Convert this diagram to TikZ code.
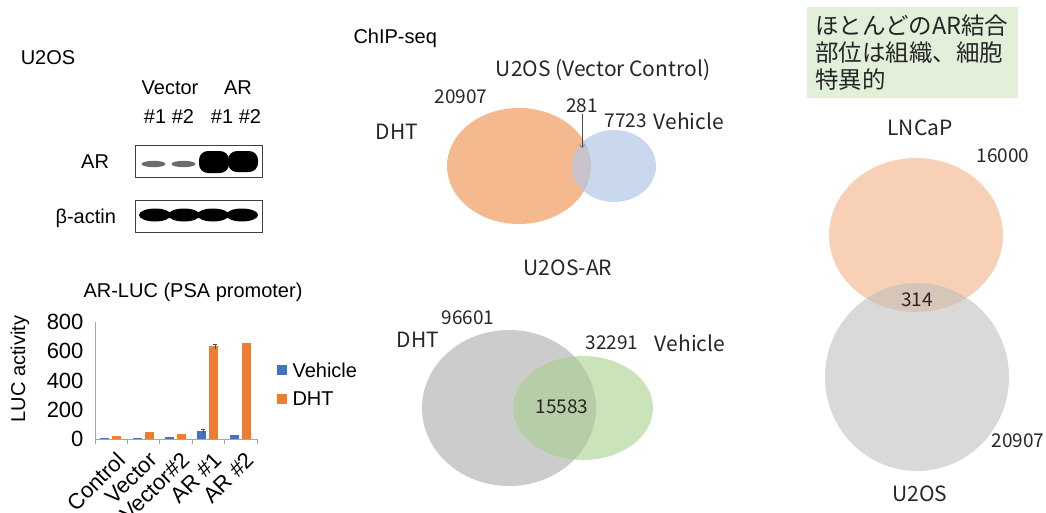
\documentclass[tikz,border=0pt]{standalone}
\usepackage{fontspec}
\setmainfont{Liberation Sans}
\newfontfamily\jpfont{Noto Sans CJK JP}
\usetikzlibrary{arrows.meta}
\definecolor{vehblue}{RGB}{68,114,196}
\definecolor{dhtorange}{RGB}{237,125,49}
\definecolor{vennorange}{RGB}{244,177,131}
\definecolor{vennblue}{RGB}{180,199,231}
\definecolor{venngray}{RGB}{191,191,191}
\definecolor{venngreen}{RGB}{169,209,142}
\definecolor{boxgreen}{RGB}{226,240,217}
\tikzset{
  lbl/.style={font=\fontsize{20}{24}\selectfont},
  ticklbl/.style={font=\fontsize{22}{26}\selectfont},
  venn/.style={font=\jpfont\fontsize{19}{23}\selectfont, text=black!85},
  vennword/.style={font=\jpfont\fontsize{21}{25}\selectfont, text=black!85},
  blotbox/.style={draw=black!75, line width=1pt, minimum width=127pt, minimum height=32pt, inner sep=0pt},
  axisline/.style={draw=gray!70, line width=0.8pt}
}

\begin{document}
\begin{tikzpicture}[x=1pt, y=-1pt]
    \useasboundingbox (0,0) rectangle (1046,512);

    % western blot
    \begin{scope}
        \node[lbl] (cell) at (48,58) {U2OS};
        \node[lbl] (vec) at (170,88) {Vector};
        \node[lbl] (ar) at (238,88) {AR};
        \node[lbl] (vecno) at (169,117) {\#1 \#2};
        \node[lbl] (arno) at (236,117) {\#1 \#2};

        \node[blotbox] (arblot) at (198.5,161.5) {};
        \node[blotbox] (actblot) at (198.5,216.5) {};
        \node[lbl, anchor=east] (arlbl) at (arblot.west) [xshift=-22pt] {AR};
        \node[lbl, anchor=east] (actlbl) at (actblot.west) [xshift=-15pt, yshift=-2pt] {β-actin};

        \fill[gray!85!black] (153.5,164) ellipse [x radius=12, y radius=3.2];
        \fill[gray!85!black] (183.5,164) ellipse [x radius=12, y radius=3.2];
        \fill[black, rounded corners=9pt] (199,151) rectangle (229,173);
        \fill[black, rounded corners=9pt] (228,151) rectangle (258,172);
        \foreach \bx in {155,184,213,242}
            \fill[black] (\bx,215) ellipse [x radius=16, y radius=6.5];
    \end{scope}

    % luciferase assay
    \begin{scope}
        \node[lbl] (luctitle) at (193,292) {AR-LUC (PSA promoter)};
        \node[lbl, rotate=90] (ylbl) at (20,369) {LUC activity};
        \draw[axisline] (95,322) -- (95,439) -- (257,439);
        \foreach \t/\y in {0/439,200/410,400/381,600/351,800/322} {
            \node[ticklbl, anchor=east] (tk\t) at (87,\y) {\t};
        }
        \foreach \xx in {95,127.4,159.8,192.2,224.6,257}
            \draw[axisline] (\xx,439) -- (\xx,444);

        \foreach \i/\nm/\v/\d in {0/Control/5/20, 1/Vector/5/50, 2/Vector\#2/12/35, 3/AR \#1/52/636, 4/AR \#2/25/658} {
            \pgfmathsetmacro\cx{111.2+32.4*\i}
            \fill[vehblue] (\cx-11,439) rectangle (\cx-2,439-0.14625*\v);
            \fill[dhtorange] (\cx+1,439) rectangle (\cx+10,439-0.14625*\d);
            \node[ticklbl, rotate=45, anchor=north east, inner sep=1pt] (xl\i) at (\cx+4,449) {\nm};
        }
        % error bars
        \draw[gray!60!black] (202.7,429) -- (202.7,434) (200.7,429) -- (204.7,429);
        \draw[gray!60!black] (214.7,344) -- (214.7,349) (212.7,344) -- (216.7,344);

        \fill[vehblue] (277,365) rectangle (287,375);
        \node[lbl, anchor=west] (legveh) at (289,370) {Vehicle};
        \fill[dhtorange] (277,394) rectangle (287,404);
        \node[lbl, anchor=west] (legdht) at (289,399) {DHT};
    \end{scope}

    % ChIP-seq, vector control
    \begin{scope}
        \node[lbl, anchor=west] (chip) at (350,38) {ChIP-seq};
        \node[vennword] (u2osvc) at (603,70) {U2OS (Vector Control)};
        \fill[vennorange, fill opacity=0.9] (519,166) ellipse [x radius=72, y radius=58];
        \fill[vennblue, fill opacity=0.7] (614,166) ellipse [x radius=42, y radius=36];
        \node[venn] (n20907) at (461,97) {20907};
        \node[vennword] (dhta) at (397,132) {DHT};
        \node[venn, inner sep=1pt] (n281) at (582,106) {281};
        \node[venn, anchor=west] (n7723) at (601,121) {7723};
        \node[vennword, anchor=west] (veha) at (n7723.east) {Vehicle};
        \coordinate (tip281) at (582,148);
        \draw[gray!60!black, -{Straight Barb[length=3pt, width=5pt]}] (n281.south) -- (tip281);
    \end{scope}

    % ChIP-seq, U2OS-AR
    \begin{scope}
        \node[vennword] (u2osar) at (568,268) {U2OS-AR};
        \fill[venngray, fill opacity=0.8] (509,408) ellipse [x radius=87, y radius=78];
        \fill[venngreen, fill opacity=0.6] (583,408) ellipse [x radius=70, y radius=52];
        \node[venn] (n96601) at (468,318) {96601};
        \node[vennword] (dhtb) at (418,340) {DHT};
        \node[venn] (n32291) at (612,343) {32291};
        \node[vennword] (vehb) at (690,343) {Vehicle};
        \node[venn] (n15583) at (562,407) {15583};
    \end{scope}

    % LNCaP vs U2OS
    \begin{scope}
        \node[fill=boxgreen, text width=195pt, inner xsep=8pt, inner ysep=5pt, minimum height=91pt,
              align=left, anchor=north west,
              font=\jpfont\fontsize{23.5}{27}\selectfont, text=black!85] (note) at (807,7)
              {ほとんどのAR結合\\部位は組織、細胞\\特異的};
        \fill[vennorange, fill opacity=0.6] (916,235) ellipse [x radius=87, y radius=77];
        \fill[venngray, fill opacity=0.6] (917,377) ellipse [x radius=92, y radius=94];
        \node[vennword] (lncap) at (920,128) {LNCaP};
        \node[venn] (n16000) at (1003,156) {16000};
        \node[venn] (n314) at (917,300) {314};
        \node[venn] (n20907b) at (1018,441) {20907};
        \node[vennword] (u2osb) at (920,494) {U2OS};
    \end{scope}
\end{tikzpicture}
\end{document}
